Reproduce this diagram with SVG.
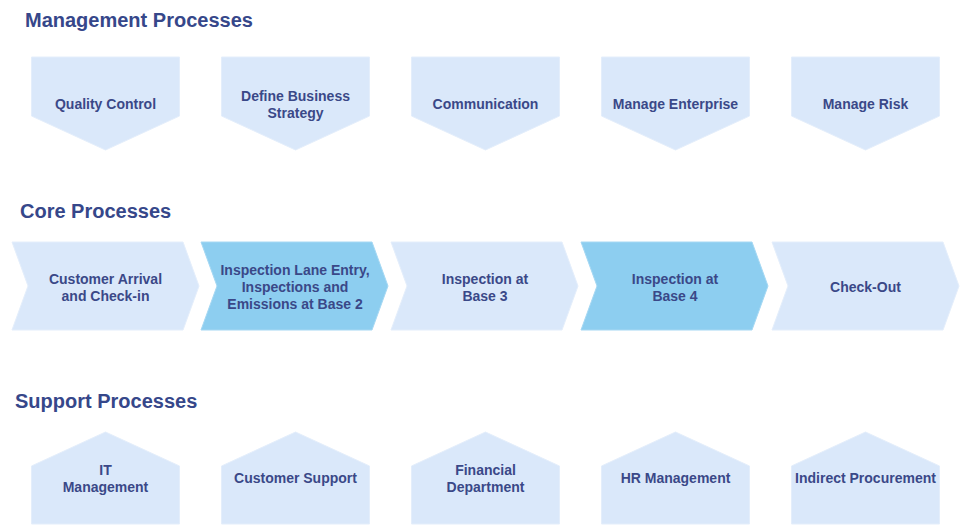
<svg xmlns="http://www.w3.org/2000/svg" width="962" height="526" viewBox="0 0 962 526">
  <style>
    .head { font-family: "Liberation Sans", Arial, sans-serif; font-weight: bold; font-size: 20px; fill: #36478a; }
    .lbl { font-family: "Liberation Sans", Arial, sans-serif; font-weight: bold; font-size: 14px; fill: #3a4888; text-anchor: middle; }
    .light { fill: #dae8fa; stroke: #e4eefb; stroke-width: 1; }
    .hi { fill: #8dcef0; stroke: #a6d8f3; stroke-width: 1; }
  </style>
  <defs>
    <!-- pentagon pointing down -->
    <path id="down" d="M0,0 H148 V59 L74,93 L0,59 Z"/>
    <!-- chevron pointing right -->
    <path id="chev" d="M0,0 H171 L187,44 L171,88 H0 L16,44 Z"/>
    <!-- pentagon pointing up -->
    <path id="up" d="M0,34 L74,0 L148,34 V92 H0 Z"/>
  </defs>

  <rect width="962" height="526" fill="#ffffff"/>

  <!-- section headings -->
  <text class="head" x="25" y="27">Management Processes</text>
  <text class="head" x="20" y="218">Core Processes</text>
  <text class="head" x="15" y="408">Support Processes</text>

  <!-- management processes -->
  <g id="mgmt-quality">
    <use href="#down" class="light" x="31.5" y="57"/>
    <text class="lbl" x="105.5" y="109">Quality Control</text>
  </g>
  <g id="mgmt-strategy">
    <use href="#down" class="light" x="221.5" y="57"/>
    <text class="lbl" x="295.5" y="101">Define Business</text>
    <text class="lbl" x="295.5" y="118">Strategy</text>
  </g>
  <g id="mgmt-communication">
    <use href="#down" class="light" x="411.5" y="57"/>
    <text class="lbl" x="485.5" y="109">Communication</text>
  </g>
  <g id="mgmt-enterprise">
    <use href="#down" class="light" x="601.5" y="57"/>
    <text class="lbl" x="675.5" y="109">Manage Enterprise</text>
  </g>
  <g id="mgmt-risk">
    <use href="#down" class="light" x="791.5" y="57"/>
    <text class="lbl" x="865.5" y="109">Manage Risk</text>
  </g>

  <!-- core processes -->
  <g id="core-arrival">
    <use href="#chev" class="light" x="12" y="242"/>
    <text class="lbl" x="105.5" y="284">Customer Arrival</text>
    <text class="lbl" x="105.5" y="301">and Check-in</text>
  </g>
  <g id="core-lane-entry">
    <use href="#chev" class="hi" x="201" y="242"/>
    <text class="lbl" x="295" y="275">Inspection Lane Entry,</text>
    <text class="lbl" x="295" y="292">Inspections and</text>
    <text class="lbl" x="295" y="309">Emissions at Base 2</text>
  </g>
  <g id="core-base3">
    <use href="#chev" class="light" x="391" y="242"/>
    <text class="lbl" x="485" y="284">Inspection at</text>
    <text class="lbl" x="485" y="301">Base 3</text>
  </g>
  <g id="core-base4">
    <use href="#chev" class="hi" x="581" y="242"/>
    <text class="lbl" x="675" y="284">Inspection at</text>
    <text class="lbl" x="675" y="301">Base 4</text>
  </g>
  <g id="core-checkout">
    <use href="#chev" class="light" x="772" y="242"/>
    <text class="lbl" x="865.5" y="292">Check-Out</text>
  </g>

  <!-- support processes -->
  <g id="sup-it">
    <use href="#up" class="light" x="31.5" y="432"/>
    <text class="lbl" x="105.5" y="475">IT</text>
    <text class="lbl" x="105.5" y="492">Management</text>
  </g>
  <g id="sup-customer">
    <use href="#up" class="light" x="221.5" y="432"/>
    <text class="lbl" x="295.5" y="483">Customer Support</text>
  </g>
  <g id="sup-financial">
    <use href="#up" class="light" x="411.5" y="432"/>
    <text class="lbl" x="485.5" y="475">Financial</text>
    <text class="lbl" x="485.5" y="492">Department</text>
  </g>
  <g id="sup-hr">
    <use href="#up" class="light" x="601.5" y="432"/>
    <text class="lbl" x="675.5" y="483">HR Management</text>
  </g>
  <g id="sup-procurement">
    <use href="#up" class="light" x="791.5" y="432"/>
    <text class="lbl" x="865.5" y="483">Indirect Procurement</text>
  </g>

  <!-- no connectors in this diagram -->
  <g id="connectors"/>
</svg>
